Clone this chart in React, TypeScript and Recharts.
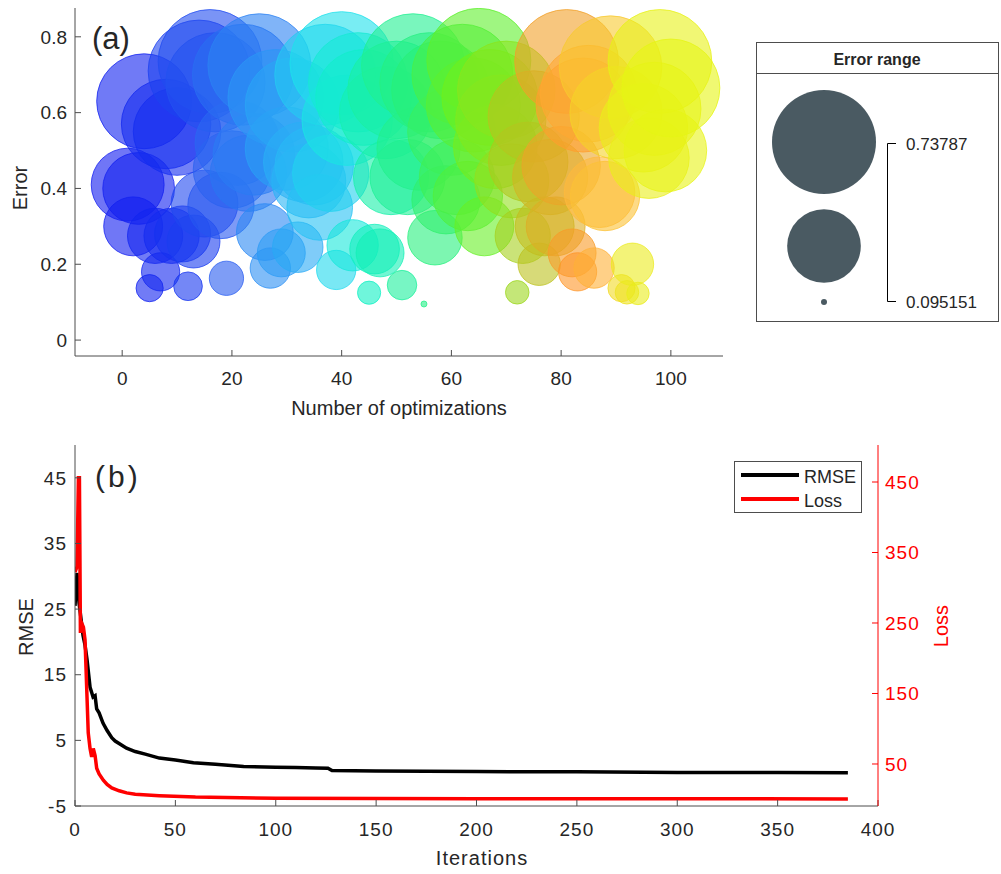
import React from "react";
import {
  ScatterChart,
  Scatter,
  XAxis,
  YAxis,
  ZAxis,
  Cell,
  LineChart,
  Line,
  Legend,
} from "recharts";

// (a) bubble chart: optimization run -> error (bubble size is the error too)
const optimizationRun = [
  1, 2, 3, 4, 5, 6, 7, 8, 9, 10, 11, 12, 13, 14, 15, 16, 17, 18, 19, 20,
  21, 22, 23, 24, 25, 26, 27, 28, 29, 30, 31, 32, 33, 34, 35, 36, 37, 38, 39, 40,
  41, 42, 43, 44, 45, 46, 47, 48, 49, 50, 51, 52, 53, 54, 55, 56, 57, 58, 59, 60,
  61, 62, 63, 64, 65, 66, 67, 68, 69, 70, 71, 72, 73, 74, 75, 76, 77, 78, 79, 80,
  81, 82, 83, 84, 85, 86, 87, 88, 89, 90, 91, 92, 93, 94, 95, 96, 97, 98, 99, 100,
];
const errorValue = [
  0.41, 0.3, 0.4, 0.63, 0.137, 0.275, 0.18, 0.57, 0.275, 0.55,
  0.28, 0.142, 0.26, 0.71, 0.36, 0.735, 0.68, 0.355, 0.163, 0.45,
  0.52, 0.7, 0.44, 0.49, 0.725, 0.285, 0.19, 0.64, 0.23, 0.505,
  0.62, 0.245, 0.47, 0.42, 0.46, 0.35, 0.7, 0.44, 0.185, 0.73,
  0.58, 0.25, 0.68, 0.64, 0.125, 0.24, 0.23, 0.6, 0.43, 0.66,
  0.145, 0.43, 0.725, 0.505, 0.095151, 0.68, 0.27, 0.66, 0.37, 0.55,
  0.43, 0.7, 0.38, 0.62, 0.73787, 0.3, 0.64, 0.51, 0.58, 0.66,
  0.42, 0.126, 0.275, 0.47, 0.59, 0.2, 0.3, 0.43, 0.3, 0.46,
  0.735, 0.23, 0.18, 0.62, 0.65, 0.19, 0.39, 0.38, 0.72, 0.6,
  0.137, 0.126, 0.2, 0.123, 0.56, 0.48, 0.61, 0.735, 0.5, 0.665,
];
const runTicks = [0, 20, 40, 60, 80, 100];
const errorTicks = [0, 0.2, 0.4, 0.6, 0.8];
const errorMin = 0.095151;
const errorMax = 0.73787;

// (b) training curves
const rmseIter = [0, 1, 2, 3, 4, 5, 6, 7.5, 9, 10, 10.8, 12, 14, 16, 18.3, 20, 25.7, 30, 35, 42, 50, 59, 70, 84, 100, 110, 120, 126, 128, 150, 200, 250, 300, 350, 385];
const rmseVal = [25.5, 30.5, 26, 23.5, 21, 19.5, 17.3, 13.1, 11.6, 11.8, 9.8, 9.2, 7.6, 6.5, 5.4, 4.9, 3.8, 3.3, 2.9, 2.3, 2.0, 1.6, 1.35, 1.0, 0.9, 0.85, 0.8, 0.75, 0.4, 0.35, 0.25, 0.2, 0.12, 0.1, 0.08];
const lossIter = [0, 1, 1.7, 2.2, 2.7, 3.3, 4.2, 5, 5.8, 6.6, 7.5, 8.3, 9.1, 10, 10.8, 12, 14.1, 16, 18.3, 22, 25.7, 30, 42, 60, 100, 200, 385];
const lossVal = [322, 330, 456, 456, 236, 250, 244, 226, 160, 94, 72, 60, 72, 62, 44, 36, 27, 21, 16, 12, 9, 7, 5, 3, 1.5, 0.8, 0.5];
const iterTicks = [0, 50, 100, 150, 200, 250, 300, 350, 400];
const rmseTicks = [-5, 5, 15, 25, 35, 45];
const lossTicks = [50, 150, 250, 350, 450];

const FONT = "'Liberation Sans', Arial, Helvetica, sans-serif";
const AXIS = "#4d4d4d";
const TEXT = "#262626";
const RED = "#ff0000";

// colormap used for the bubbles, by run number
const COLOR_STOPS: [number, number[]][] = [
  [0, [15, 25, 240]],
  [10, [20, 45, 240]],
  [20, [42, 97, 240]],
  [28, [43, 150, 245]],
  [35, [40, 185, 245]],
  [40, [30, 225, 235]],
  [45, [15, 240, 195]],
  [52, [30, 240, 150]],
  [58, [40, 240, 120]],
  [63, [80, 240, 60]],
  [67, [110, 240, 30]],
  [70, [137, 230, 30]],
  [74, [175, 200, 30]],
  [77, [195, 190, 30]],
  [80, [235, 165, 40]],
  [83, [255, 150, 40]],
  [87, [255, 185, 60]],
  [90, [245, 210, 40]],
  [93, [235, 235, 30]],
  [100, [230, 245, 20]],
];

function runColor(x: number) {
  for (let i = 1; i < COLOR_STOPS.length; i++) {
    const [x1, c1] = COLOR_STOPS[i];
    const [x0, c0] = COLOR_STOPS[i - 1];
    if (x <= x1) {
      const t = (x - x0) / (x1 - x0);
      const c = c0.map((v, k) => Math.round(v + (c1[k] - v) * t));
      return `rgb(${c[0]},${c[1]},${c[2]})`;
    }
  }
  const c = COLOR_STOPS[COLOR_STOPS.length - 1][1];
  return `rgb(${c[0]},${c[1]},${c[2]})`;
}

// bubble area grows linearly with the error
const AREA_RANGE = [Math.PI * 3 * 3, Math.PI * 52 * 52];
function bubbleRadius(v: number) {
  const t = (v - errorMin) / (errorMax - errorMin);
  return Math.sqrt((AREA_RANGE[0] + t * (AREA_RANGE[1] - AREA_RANGE[0])) / Math.PI);
}

const bubbles = optimizationRun.map((run, i) => ({ run, err: errorValue[i] }));
const rmseData = rmseIter.map((it, i) => ({ it, v: rmseVal[i] }));
const lossData = lossIter.map((it, i) => ({ it, v: lossVal[i] }));

const tickStyle = { fontSize: 19, fill: TEXT, fontFamily: FONT };

function CurveLegend() {
  return (
    <svg width={128} height={52}>
      <rect x={0.5} y={0.5} width={127} height={51} fill="#fff" stroke={AXIS} />
      <line x1={7} x2={65} y1={14} y2={14} stroke="#000" strokeWidth={4} />
      <line x1={7} x2={65} y1={38} y2={38} stroke={RED} strokeWidth={4} />
      <text x={70} y={22} fontSize={18} fill={TEXT} fontFamily={FONT}>RMSE</text>
      <text x={70} y={46} fontSize={18} fill={TEXT} fontFamily={FONT}>Loss</text>
    </svg>
  );
}

export default function App() {
  const midErr = (errorMin + errorMax) / 2;
  return (
    <div style={{ position: "absolute", left: 0, top: 0, width: 1001, height: 874, background: "#fff", fontFamily: FONT }}>
      <div style={{ position: "absolute", left: 0, top: 0 }}>
        <ScatterChart width={740} height={420} margin={{ top: 8, right: 17, left: 15, bottom: 34 }}>
          <XAxis
            xAxisId="x"
            type="number"
            dataKey="run"
            domain={[-8.6, 109.5]}
            allowDataOverflow
            ticks={runTicks}
            height={30}
            tickSize={-6}
            tickMargin={22}
            tick={tickStyle}
            axisLine={{ stroke: AXIS }}
            tickLine={{ stroke: AXIS }}
          />
          <XAxis
            xAxisId="xTop"
            orientation="top"
            type="number"
            domain={[-8.6, 109.5]}
            allowDataOverflow
            ticks={runTicks}
            height={0}
            tickSize={-6}
            tick={false}
            axisLine={{ stroke: AXIS }}
            tickLine={{ stroke: AXIS }}
          />
          <YAxis
            yAxisId="y"
            type="number"
            dataKey="err"
            domain={[-0.042, 0.876]}
            allowDataOverflow
            ticks={errorTicks}
            width={60}
            tickSize={-6}
            tickMargin={14}
            tick={tickStyle}
            axisLine={{ stroke: AXIS }}
            tickLine={{ stroke: AXIS }}
          />
          <YAxis
            yAxisId="yRight"
            orientation="right"
            type="number"
            domain={[-0.042, 0.876]}
            allowDataOverflow
            ticks={errorTicks}
            width={0}
            tickSize={-6}
            tick={false}
            axisLine={{ stroke: AXIS }}
            tickLine={{ stroke: AXIS }}
          />
          <ZAxis zAxisId="z" type="number" dataKey="err" domain={[errorMin, errorMax]} range={AREA_RANGE} />
          <Scatter data={bubbles} xAxisId="x" yAxisId="y" zAxisId="z" isAnimationActive={false}>
            {bubbles.map((b) => (
              <Cell
                key={b.run}
                fill={runColor(b.run)}
                fillOpacity={0.6}
                stroke={runColor(b.run)}
                strokeOpacity={0.75}
                strokeWidth={1}
              />
            ))}
          </Scatter>
        </ScatterChart>
      </div>

      <div style={{ position: "absolute", left: 0, top: 420 }}>
        <LineChart width={1001} height={454} margin={{ top: 25, right: 63, left: 15, bottom: 38 }}>
          <XAxis
            xAxisId="it"
            type="number"
            dataKey="it"
            domain={[0, 400]}
            allowDataOverflow
            ticks={iterTicks}
            height={30}
            tickSize={-6}
            tickMargin={23}
            tick={{ ...tickStyle, letterSpacing: 1 }}
            axisLine={{ stroke: AXIS }}
            tickLine={{ stroke: AXIS }}
          />
          <XAxis
            xAxisId="itTop"
            orientation="top"
            type="number"
            domain={[0, 400]}
            allowDataOverflow
            ticks={iterTicks}
            height={0}
            tickSize={-6}
            tick={false}
            axisLine={{ stroke: AXIS }}
            tickLine={{ stroke: AXIS }}
          />
          <YAxis
            yAxisId="rmse"
            type="number"
            domain={[-5, 50]}
            allowDataOverflow
            ticks={rmseTicks}
            width={60}
            tickSize={-6}
            tickMargin={14}
            tick={{ ...tickStyle, letterSpacing: 1 }}
            axisLine={{ stroke: AXIS }}
            tickLine={{ stroke: AXIS }}
          />
          <YAxis
            yAxisId="rmseMirror"
            orientation="right"
            type="number"
            domain={[-5, 50]}
            allowDataOverflow
            ticks={rmseTicks}
            width={0}
            tickSize={-6}
            tick={false}
            axisLine={false}
            tickLine={{ stroke: AXIS }}
          />
          <YAxis
            yAxisId="loss"
            orientation="right"
            type="number"
            domain={[-9.6, 502.5]}
            allowDataOverflow
            ticks={lossTicks}
            width={60}
            tickSize={-6}
            tickMargin={13}
            tick={{ ...tickStyle, fill: RED, letterSpacing: 1 }}
            axisLine={{ stroke: RED }}
            tickLine={{ stroke: RED }}
          />
          <Line
            data={rmseData}
            dataKey="v"
            xAxisId="it"
            yAxisId="rmse"
            type="linear"
            stroke="#000"
            strokeWidth={3.5}
            dot={false}
            isAnimationActive={false}
          />
          <Line
            data={lossData}
            dataKey="v"
            xAxisId="it"
            yAxisId="loss"
            type="linear"
            stroke={RED}
            strokeWidth={3.5}
            dot={false}
            isAnimationActive={false}
          />
          <Legend
            layout="horizontal"
            verticalAlign="middle"
            align="center"
            content={() => <CurveLegend />}
            wrapperStyle={{ left: 734, top: 41, width: 128, height: 52 }}
          />
        </LineChart>
      </div>

      <svg
        width={1001}
        height={874}
        style={{ position: "absolute", left: 0, top: 0, pointerEvents: "none" }}
        fontFamily={FONT}
      >
        <text x={92} y={49} fontSize={31} fill={TEXT}>(a)</text>
        <text x={399} y={415} fontSize={20} fill={TEXT} textAnchor="middle">Number of optimizations</text>
        <text x={27} y={188} fontSize={20} fill={TEXT} textAnchor="middle" transform="rotate(-90 27 188)">Error</text>

        <text x={95} y={487} fontSize={30} fill={TEXT} letterSpacing={3}>(b)</text>
        <text x={482} y={865} fontSize={20} fill={TEXT} textAnchor="middle" letterSpacing={1}>Iterations</text>
        <text x={33} y={627} fontSize={20} fill={TEXT} textAnchor="middle" transform="rotate(-90 33 627)">RMSE</text>
        <text x={948} y={626} fontSize={20} fill={RED} textAnchor="middle" transform="rotate(-90 948 626)">Loss</text>

        {/* bubble size legend */}
        <rect x={756.5} y={42.5} width={242} height={279} fill="#fff" stroke={AXIS} />
        <line x1={756.5} x2={998.5} y1={73.5} y2={73.5} stroke={AXIS} />
        <text x={877} y={65} fontSize={16} fontWeight="bold" fill={TEXT} textAnchor="middle">Error range</text>
        <circle cx={824} cy={142} r={bubbleRadius(errorMax)} fill="#4a5a62" />
        <circle cx={824} cy={246} r={bubbleRadius(midErr)} fill="#4a5a62" />
        <circle cx={824} cy={302} r={bubbleRadius(errorMin)} fill="#4a5a62" />
        <polyline points="896,143.5 887.5,143.5 887.5,301.5 896,301.5" fill="none" stroke="#000" strokeWidth={1} />
        <text x={906} y={150} fontSize={17} fill={TEXT}>{String(errorMax)}</text>
        <text x={906} y={308} fontSize={17} fill={TEXT}>{String(errorMin)}</text>
      </svg>
    </div>
  );
}
